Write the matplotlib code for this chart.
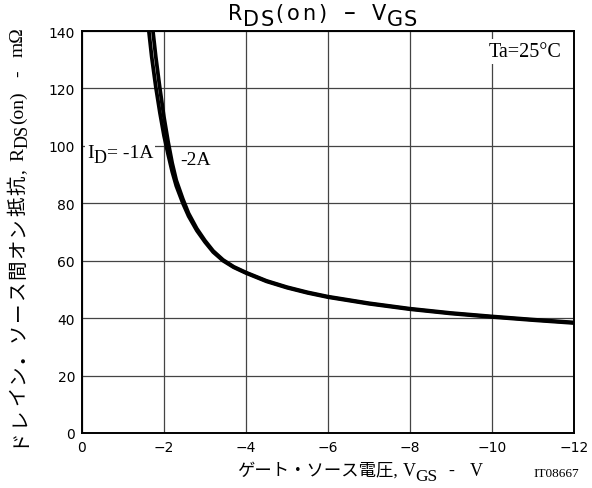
import matplotlib
matplotlib.use('Agg')
import matplotlib.pyplot as plt
from matplotlib.patches import Rectangle
from matplotlib.transforms import IdentityTransform

plt.rcParams['font.family'] = ['DejaVu Sans']

# V_GS (V) and R_DS(on) (mOhm)
vgs_1a = [-1.63, -1.7, -1.8, -1.9, -2.0, -2.1, -2.2, -2.3, -2.46, -2.6, -2.8, -3.0, -3.2, -3.44,
          -3.7, -4.0, -4.5, -5.0, -5.5, -6.0, -7.0, -8.0, -9.0, -10.0, -11.0, -12.0]
rds_1a = [140, 131, 120.5, 111.5, 103.5, 97, 91, 86, 80, 75.5, 70.5, 66.5, 63, 60,
          57.7, 55.7, 52.8, 50.6, 48.8, 47.3, 45, 43.1, 41.6, 40.4, 39.3, 38.3]
vgs_2a = [-1.73, -1.8, -1.9, -2.0, -2.1, -2.2, -2.3, -2.46, -2.6, -2.8, -3.0, -3.2, -3.44,
          -3.7, -4.0, -4.5, -5.0, -5.5, -6.0, -7.0, -8.0, -9.0, -10.0, -11.0, -12.0]
rds_2a = [140, 131, 120, 110, 101.5, 94, 88, 81.5, 76.5, 71.2, 67, 63.4, 60.3,
          57.9, 55.9, 53, 50.8, 49, 47.5, 45.2, 43.3, 41.8, 40.6, 39.5, 38.5]

xticks = [0, -2, -4, -6, -8, -10, -12]
yticks = [0, 20, 40, 60, 80, 100, 120, 140]

W, H = 592, 489
SANS = 'DejaVu Sans'
SERIF = 'Liberation Serif'
JP = ['Liberation Serif', 'Noto Sans CJK JP']

fig = plt.figure(figsize=(W / 100, H / 100), dpi=100)
ax = fig.add_axes([82 / W, 1 - 434 / H, (574 - 82) / W, (434 - 32) / H])

ax.plot(vgs_1a, rds_1a, color='black', lw=2.7, zorder=4, solid_capstyle='butt')
ax.plot(vgs_2a, rds_2a, color='black', lw=2.7, zorder=4, solid_capstyle='butt')

ax.set_xlim(0, -12)
ax.set_ylim(0, 140)
ax.set_xticks(xticks)
ax.set_yticks(yticks)
ax.tick_params(length=0, labelsize=10, pad=5)
ax.grid(True, color='#444444', lw=0.9)
ax.set_axisbelow(True)
for s in ax.spines.values():
    s.set_linewidth(1.4)
    s.set_zorder(5)

renderer = fig.canvas.get_renderer()


def chain(parent, x, y, pieces, rot=0, **kw):
    # write text pieces one after another; x, y = start on baseline, image pixels from top-left
    pos = 0.0
    boxes = []
    for s, size, fam, drop, gap in pieces:
        if rot == 0:
            px, py = x + pos, H - y - drop
        else:
            px, py = x + drop, H - y + pos
        t = parent.text(px, py, s, fontsize=size, family=fam, rotation=rot, rotation_mode='anchor',
                        ha='left', va='baseline', transform=IdentityTransform(), **kw)
        bb = t.get_window_extent(renderer)
        boxes.append(bb)
        pos += (bb.width if rot == 0 else bb.height) + gap
    return boxes


def spaced(s, size, fam, drop, track, gap_after):
    # one piece per character, for letter spacing
    out = [(c, size, fam, drop, track) for c in s]
    out[-1] = (s[-1], size, fam, drop, gap_after)
    return out


def label_in_axes(x, y, pieces, pad=2):
    # text inside the plot on a white patch: grid hidden, curves drawn over it
    boxes = chain(ax, x, y, pieces, zorder=3)
    x0 = min(b.x0 for b in boxes) - pad
    x1 = max(b.x1 for b in boxes) + pad
    y0 = min(b.y0 for b in boxes) - pad
    y1 = max(b.y1 for b in boxes) + pad
    ax.add_patch(Rectangle((x0, y0), x1 - x0, y1 - y0, transform=IdentityTransform(),
                           facecolor='white', edgecolor='none', zorder=2.5))


# title
chain(fig, 228, 20, [('R', 15, SANS, 0, 1)] + spaced('DS', 15, SANS, 6, 1, 2)
      + spaced('(on)', 15, SANS, 0, 3, 17) + [('–', 17, SANS, 0, 16), ('V', 15, SANS, 0, 1)]
      + spaced('GS', 15, SANS, 6, 1, 0))

# x label
chain(fig, 237, 476, [('ゲート・ソース電圧,', 12.5, JP, 0, 5), ('V', 13, SERIF, 0, 0),
                      ('GS', 12.5, SERIF, 5, 10), ('-', 13, SERIF, 0, 16), ('V', 13, SERIF, 0, 0)])
fig.text(533, H - 477, 'IT08667', fontsize=9.5, family=SERIF, ha='left', va='baseline',
         transform=IdentityTransform())

# y label
chain(fig, 23, 447, spaced('ドレイン・ソース間オン抵抗', 14, JP, 0, 1.5, 1.5) + [(',', 14, SERIF, 0, 8)]
      + [('R', 14, SERIF, 0, 0), ('DS', 13, SERIF, 5, 1), ('(on)', 14, SERIF, 0, 14),
         ('-', 14, SERIF, 0, 14), ('mΩ', 14, SERIF, 0, 0)], rot=90)

# annotations
label_in_axes(87, 158, [('I', 14, SERIF, 0, 0), ('D', 13, SERIF, 5, 0), ('= -1A', 14, SERIF, 0, 0)])
label_in_axes(180, 165, [('-2A', 14, SERIF, 0, 0)])
label_in_axes(489, 57, [('Ta=25°C', 14.5, SERIF, 0, 0)], pad=3)

fig.savefig('out.png', dpi=100)
